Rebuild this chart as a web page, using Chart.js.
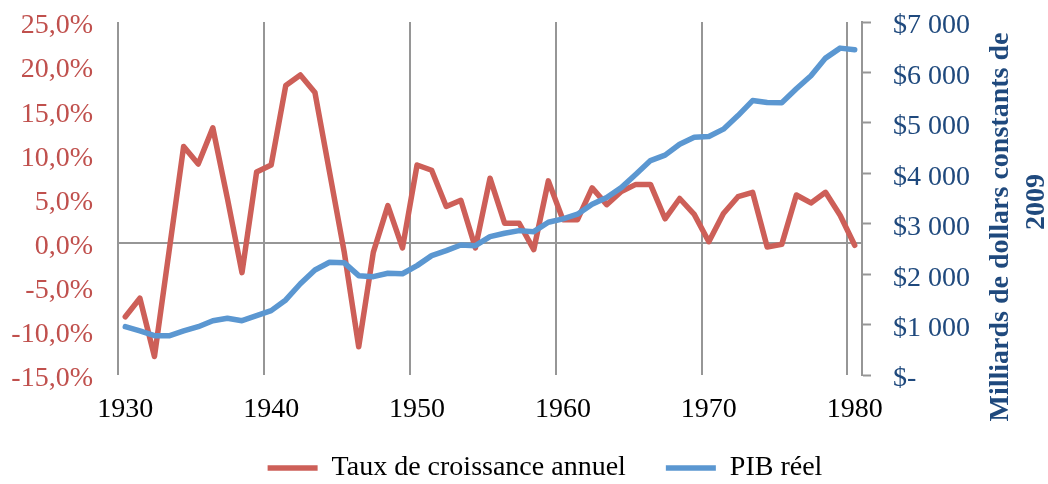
<!DOCTYPE html>
<html>
<head>
<meta charset="utf-8">
<script src="https://cdn.jsdelivr.net/npm/chart.js@4/dist/chart.umd.min.js"></script>
<style>
  html, body { margin: 0; padding: 0; background: #fff; }
  #wrap { width: 1048px; height: 484px; }
</style>
</head>
<body>
<div id="wrap"><canvas id="chart"></canvas></div>
<script>
// ── Data ──────────────────────────────────────────
const years = [
  '1930', '1931', '1932', '1933', '1934', '1935', '1936', '1937', '1938', '1939',
  '1940', '1941', '1942', '1943', '1944', '1945', '1946', '1947', '1948', '1949',
  '1950', '1951', '1952', '1953', '1954', '1955', '1956', '1957', '1958', '1959',
  '1960', '1961', '1962', '1963', '1964', '1965', '1966', '1967', '1968', '1969',
  '1970', '1971', '1972', '1973', '1974', '1975', '1976', '1977', '1978', '1979', '1980'
];

// Taux de croissance annuel (%)
const growthRate = [
  -8.4, -6.3, -12.9, -1.0, 10.9, 8.9, 13.0, 5.0, -3.4, 8.0,
  8.8, 17.8, 19.0, 17.0, 8.0, -1.0, -11.8, -1.1, 4.2, -0.6,
  8.8, 8.2, 4.1, 4.8, -0.6, 7.3, 2.2, 2.2, -0.8, 7.0,
  2.6, 2.6, 6.2, 4.3, 5.8, 6.6, 6.6, 2.7, 5.0, 3.2,
  0.1, 3.3, 5.2, 5.7, -0.5, -0.2, 5.4, 4.5, 5.7, 3.1, -0.3
];

// PIB réel (milliards de dollars constants de 2009)
const realGdp = [
  958, 873, 780, 778, 873, 958, 1077, 1125, 1077, 1177,
  1276, 1488, 1810, 2083, 2236, 2228, 1970, 1950, 2018, 2008,
  2169, 2367, 2466, 2579, 2565, 2744, 2811, 2863, 2843, 3029,
  3095, 3188, 3387, 3518, 3716, 3982, 4252, 4360, 4577, 4716,
  4728, 4875, 5145, 5442, 5403, 5400, 5675, 5933, 6284, 6482, 6448
];

const seriesLabels = ['Taux de croissance annuel', 'PIB réel'];
const rightTitle = ['Milliards de dollars constants de', '2009'];

const RED = '#CD5F58';
const BLUE = '#5B97D1';
const RED_TEXT = '#C0504D';
const BLUE_TEXT = '#1F497D';
const GRID = '#969696';
const FONT = '"Liberation Serif", "Times New Roman", serif';

Chart.defaults.font.family = FONT;
Chart.defaults.font.size = 28;
Chart.defaults.color = '#000';

// ── Legend placement + rotated right-hand axis title ──
const layoutTweaks = {
  id: 'layoutTweaks',
  afterLayout(chart) {
    // legend box is kept short so the x labels are not clipped; move it back where the original draws it
    const lg = chart.legend;
    lg.top = 414;
    lg.bottom = 484;
  },
  afterDraw(chart) {
    const ctx = chart.ctx;
    ctx.save();
    ctx.font = 'bold 28px ' + FONT;
    ctx.fillStyle = BLUE_TEXT;
    ctx.textAlign = 'center';
    ctx.textBaseline = 'middle';
    const spots = [[1001, 227], [1037, 202]];
    rightTitle.forEach((line, i) => {
      ctx.save();
      ctx.translate(spots[i][0], spots[i][1]);
      ctx.rotate(-Math.PI / 2);
      ctx.fillText(line, 0, 0);
      ctx.restore();
    });
    ctx.restore();
  }
};

const noEdgePadding = (s, w) => {
  s.width = w;
  s.paddingTop = 0;
  s.paddingBottom = 0;
};

new Chart(document.getElementById('chart').getContext('2d'), {
  type: 'line',
  data: {
    labels: years,
    datasets: [
      {
        label: seriesLabels[0],
        data: growthRate,
        yAxisID: 'y',
        borderColor: RED,
        backgroundColor: RED,
        borderWidth: 5.5,
        borderCapStyle: 'round',
        borderJoinStyle: 'round',
        pointRadius: 0,
        tension: 0,
        order: 1,
      },
      {
        label: seriesLabels[1],
        data: realGdp,
        yAxisID: 'y1',
        borderColor: BLUE,
        backgroundColor: BLUE,
        borderWidth: 5.5,
        borderCapStyle: 'round',
        borderJoinStyle: 'round',
        pointRadius: 0,
        tension: 0,
        order: 0,
      },
    ],
  },
  options: {
    responsive: true,
    maintainAspectRatio: false,
    animation: false,
    // negative right padding widens the legend box so it centres like the original
    layout: { padding: { left: 0, top: 22, right: -42, bottom: 0 } },
    plugins: {
      legend: {
        display: true,
        position: 'bottom',
        maxHeight: 40,
        labels: {
          usePointStyle: true,
          pointStyle: 'line',
          pointStyleWidth: 50,
          padding: 40,
          color: '#000',
          font: { size: 28 },
          sort: (a, b) => a.datasetIndex - b.datasetIndex,
        },
      },
      tooltip: { enabled: false },
    },
    scales: {
      x: {
        type: 'category',
        offset: true,
        border: { display: false },
        grid: {
          offset: true,
          drawTicks: false,
          lineWidth: 2,
          color: (ctx) => (ctx.tick && ctx.index % 10 === 0 ? GRID : 'rgba(0,0,0,0)'),
        },
        ticks: {
          autoSkip: false,
          maxRotation: 0,
          padding: 18,
          color: '#000',
          callback: function (val, idx) {
            const y = years[idx];
            return Number(y) % 10 === 0 ? y : '';
          },
        },
        afterFit: (s) => { s.height = 69; },
      },
      y: {
        position: 'left',
        min: -15,
        max: 25,
        border: { display: false },
        grid: {
          drawTicks: false,
          lineWidth: 2,
          color: (ctx) => (ctx.tick && ctx.tick.value === 0 ? GRID : 'rgba(0,0,0,0)'),
        },
        ticks: {
          stepSize: 5,
          padding: 25,
          labelOffset: 4,
          color: RED_TEXT,
          callback: (v) => v.toFixed(1).replace('.', ',') + '%',
        },
        afterFit: (s) => noEdgePadding(s, 118),
      },
      y1: {
        position: 'right',
        min: 0,
        max: 7000,
        border: { display: true, color: GRID, width: 2 },
        grid: {
          drawOnChartArea: false,
          drawTicks: true,
          tickLength: 9,
          tickColor: GRID,
          tickWidth: 2,
        },
        ticks: {
          stepSize: 1000,
          padding: 22,
          labelOffset: 4,
          color: BLUE_TEXT,
          callback: (v) => (v === 0 ? '$-' : '$' + (v / 1000) + ' 000'),
        },
        afterFit: (s) => noEdgePadding(s, 228),
      },
    },
  },
  plugins: [layoutTweaks],
});
</script>
</body>
</html>
